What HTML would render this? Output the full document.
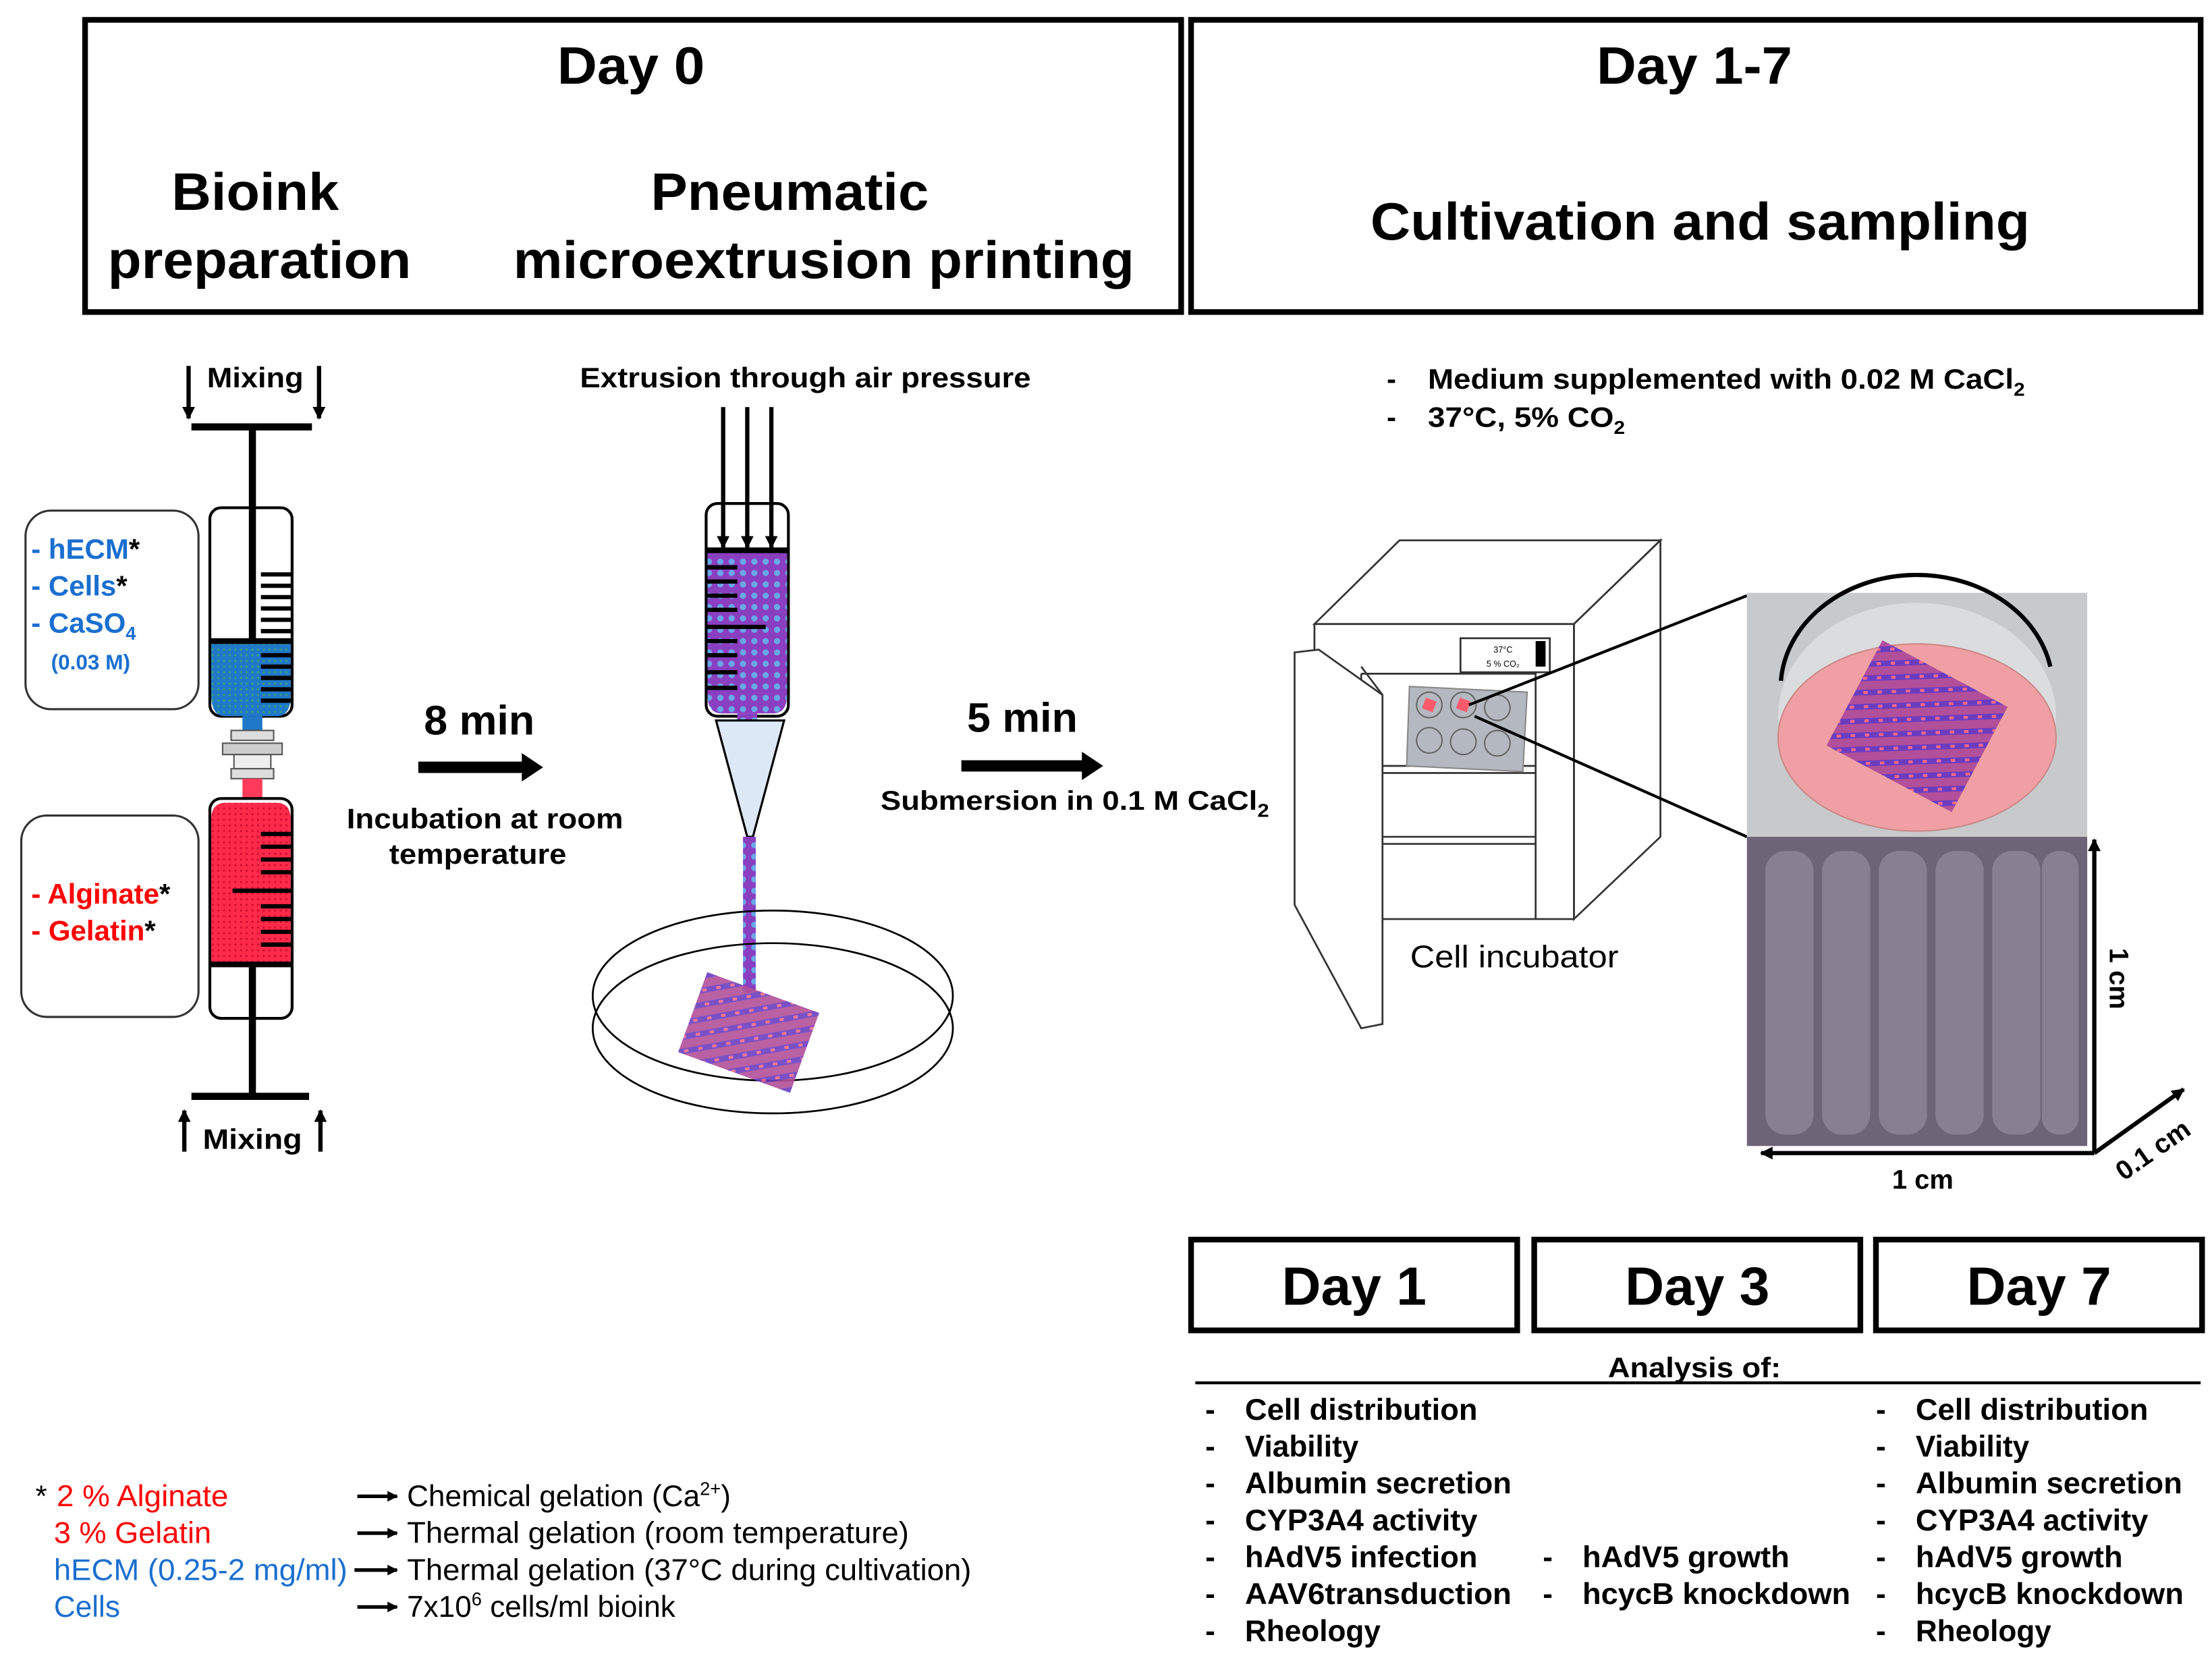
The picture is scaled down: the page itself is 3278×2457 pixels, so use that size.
<!DOCTYPE html>
<html><head><meta charset="utf-8"><style>
html,body{margin:0;padding:0;background:#fff}
svg{display:block}
text{font-family:"Liberation Sans",Arial,sans-serif}
.b{font-weight:bold}
</style></head><body>
<svg width="3278" height="2457" viewBox="0 0 1560 1169" preserveAspectRatio="none" xmlns="http://www.w3.org/2000/svg">
<defs>
<marker id="ah2" viewBox="0 0 10 10" refX="9" refY="5" markerWidth="3" markerHeight="3" orient="auto-start-reverse"><path d="M0,0L10,5L0,10z" fill="#000"/></marker>
<pattern id="pp" width="8" height="8" patternUnits="userSpaceOnUse"><rect width="8" height="8" fill="#8a3fc0"/><circle cx="4" cy="4" r="2.2" fill="#6aa6e8"/></pattern>
<pattern id="bp" width="4" height="4" patternUnits="userSpaceOnUse"><rect width="4" height="4" fill="#1f78c8"/><circle cx="2" cy="2" r="0.8" fill="#3aa080"/></pattern>
<pattern id="rp" width="4" height="4" patternUnits="userSpaceOnUse"><rect width="4" height="4" fill="#ff2a4a"/><circle cx="2" cy="2" r="0.8" fill="#d01030"/></pattern>
<pattern id="sc" width="10" height="10" patternUnits="userSpaceOnUse" patternTransform="rotate(-30)"><rect width="10" height="10" fill="#b24f9a"/><rect y="3" width="10" height="4" fill="#6b3cc0"/><rect x="3" y="4" width="3" height="2" fill="#ff6a8a"/></pattern>
</defs>

<rect x="60" y="14" width="773" height="206" fill="none" stroke="#000" stroke-width="4"/>
<rect x="840" y="14" width="712" height="206" fill="none" stroke="#000" stroke-width="4"/>
<g class="b" font-size="37" text-anchor="middle" lengthAdjust="spacingAndGlyphs">
<text x="445" y="59" textLength="104" lengthAdjust="spacingAndGlyphs">Day 0</text>
<text x="180" y="148" textLength="118" lengthAdjust="spacingAndGlyphs">Bioink</text>
<text x="183" y="196" textLength="214" lengthAdjust="spacingAndGlyphs">preparation</text>
<text x="557" y="148" textLength="196" lengthAdjust="spacingAndGlyphs">Pneumatic</text>
<text x="581" y="196" textLength="438" lengthAdjust="spacingAndGlyphs">microextrusion printing</text>
<text x="1195" y="59" textLength="138" lengthAdjust="spacingAndGlyphs">Day 1-7</text>
<text x="1199" y="169" textLength="465" lengthAdjust="spacingAndGlyphs">Cultivation and sampling</text>
</g>

<text x="180" y="273" class="b" font-size="20" text-anchor="middle" textLength="68" lengthAdjust="spacingAndGlyphs">Mixing</text>
<line x1="133" y1="258" x2="133" y2="295" stroke="#000" stroke-width="3" marker-end="url(#ah2)"/>
<line x1="225" y1="258" x2="225" y2="295" stroke="#000" stroke-width="3" marker-end="url(#ah2)"/>
<line x1="135" y1="301" x2="220" y2="301" stroke="#000" stroke-width="5"/>
<rect x="148" y="358" width="58" height="147" rx="8" fill="#fff" stroke="#000" stroke-width="2"/>
<path d="M149,452H205V490Q205,505 195,505H159Q149,505 149,490Z" fill="url(#bp)"/>
<line x1="148" y1="452" x2="206" y2="452" stroke="#000" stroke-width="4"/>
<line x1="178" y1="301" x2="178" y2="452" stroke="#000" stroke-width="5"/>
<g stroke="#000" stroke-width="3">
<line x1="184" y1="405" x2="206" y2="405"/><line x1="184" y1="413" x2="206" y2="413"/><line x1="184" y1="421" x2="206" y2="421"/><line x1="184" y1="429" x2="206" y2="429"/><line x1="184" y1="437" x2="206" y2="437"/><line x1="184" y1="445" x2="206" y2="445"/>
<line x1="184" y1="462" x2="206" y2="462"/><line x1="184" y1="470" x2="206" y2="470"/><line x1="184" y1="478" x2="206" y2="478"/><line x1="184" y1="486" x2="206" y2="486"/><line x1="184" y1="494" x2="206" y2="494"/>
</g>
<rect x="171" y="505" width="14" height="10" fill="#1f78c8"/>
<rect x="163" y="515" width="30" height="7" fill="#ddd" stroke="#555"/>
<rect x="157" y="524" width="42" height="8" fill="#ccc" stroke="#555"/>
<rect x="165" y="532" width="26" height="10" fill="#eee" stroke="#555"/>
<rect x="163" y="542" width="30" height="7" fill="#ddd" stroke="#555"/>
<rect x="171" y="549" width="14" height="14" fill="#ff3a5a"/>
<rect x="148" y="563" width="58" height="155" rx="8" fill="#fff" stroke="#000" stroke-width="2"/>
<path d="M149,680H205V578Q205,566 195,566H159Q149,566 149,578Z" fill="url(#rp)"/>
<line x1="148" y1="680" x2="206" y2="680" stroke="#000" stroke-width="4"/>
<g stroke="#000" stroke-width="3">
<line x1="184" y1="588" x2="206" y2="588"/><line x1="184" y1="597" x2="206" y2="597"/><line x1="184" y1="606" x2="206" y2="606"/><line x1="184" y1="615" x2="206" y2="615"/><line x1="164" y1="628" x2="206" y2="628"/><line x1="184" y1="639" x2="206" y2="639"/><line x1="184" y1="648" x2="206" y2="648"/><line x1="184" y1="657" x2="206" y2="657"/><line x1="184" y1="666" x2="206" y2="666"/>
</g>
<line x1="178" y1="680" x2="178" y2="773" stroke="#000" stroke-width="5"/>
<line x1="135" y1="773" x2="218" y2="773" stroke="#000" stroke-width="5"/>
<text x="178" y="810" class="b" font-size="20" text-anchor="middle" textLength="70" lengthAdjust="spacingAndGlyphs">Mixing</text>
<line x1="130" y1="812" x2="130" y2="783" stroke="#000" stroke-width="3" marker-end="url(#ah2)"/>
<line x1="226" y1="812" x2="226" y2="783" stroke="#000" stroke-width="3" marker-end="url(#ah2)"/>

<rect x="18" y="360" width="122" height="140" rx="18" fill="none" stroke="#333" stroke-width="1.5"/>
<g class="b" font-size="20" fill="#1a6fcf">
<text x="22" y="394">- hECM<tspan fill="#000">*</tspan></text>
<text x="22" y="420">- Cells<tspan fill="#000">*</tspan></text>
<text x="22" y="446">- CaSO<tspan font-size="13" dy="5">4</tspan></text>
<text x="36" y="472" font-size="15">(0.03 M)</text>
</g>
<rect x="15" y="575" width="125" height="142" rx="18" fill="none" stroke="#333" stroke-width="1.5"/>
<g class="b" font-size="20" fill="#ff0000">
<text x="22" y="637">- Alginate<tspan fill="#000">*</tspan></text>
<text x="22" y="663">- Gelatin<tspan fill="#000">*</tspan></text>
</g>

<text x="338" y="518" class="b" font-size="29" text-anchor="middle" textLength="78" lengthAdjust="spacingAndGlyphs">8 min</text>
<line x1="295" y1="541" x2="370" y2="541" stroke="#000" stroke-width="8"/>
<path d="M368,531L383,541L368,551z"/>
<g class="b" font-size="20" text-anchor="middle"><text x="342" y="584" textLength="195" lengthAdjust="spacingAndGlyphs">Incubation at room</text><text x="337" y="609" textLength="125" lengthAdjust="spacingAndGlyphs">temperature</text></g>

<text x="568" y="273" class="b" font-size="20" text-anchor="middle" textLength="318" lengthAdjust="spacingAndGlyphs">Extrusion through air pressure</text>
<rect x="498" y="355" width="58" height="150" rx="8" fill="#fff" stroke="#000" stroke-width="2"/>
<path d="M499,388H555V490Q555,503 545,503H509Q499,503 499,490Z" fill="url(#pp)"/>
<line x1="498" y1="388" x2="556" y2="388" stroke="#000" stroke-width="4"/>
<g stroke="#000" stroke-width="3">
<line x1="510" y1="287" x2="510" y2="386" marker-end="url(#ah2)"/><line x1="527" y1="287" x2="527" y2="386" marker-end="url(#ah2)"/><line x1="544" y1="287" x2="544" y2="386" marker-end="url(#ah2)"/>
<line x1="499" y1="400" x2="520" y2="400"/><line x1="499" y1="410" x2="520" y2="410"/><line x1="499" y1="420" x2="520" y2="420"/><line x1="499" y1="430" x2="520" y2="430"/><line x1="499" y1="442" x2="540" y2="442"/><line x1="499" y1="452" x2="520" y2="452"/><line x1="499" y1="462" x2="520" y2="462"/><line x1="499" y1="474" x2="520" y2="474"/><line x1="499" y1="485" x2="520" y2="485"/>
</g>
<rect x="520" y="503" width="14" height="6" fill="url(#pp)"/>
<path d="M505,508L553,508L531,590L527,590Z" fill="#dce8f5" stroke="#000" stroke-width="1.5"/>
<rect x="524" y="590" width="9" height="110" fill="url(#pp)"/>
<ellipse cx="545" cy="702" rx="127" ry="60" fill="none" stroke="#000" stroke-width="1.3"/>
<ellipse cx="545" cy="725" rx="127" ry="60" fill="none" stroke="#000" stroke-width="1.3"/>
<g transform="translate(528,728) rotate(20)"><rect x="-42" y="-30" width="84" height="60" fill="url(#sc)" opacity="0.9"/></g>

<text x="721" y="516" class="b" font-size="29" text-anchor="middle" textLength="78" lengthAdjust="spacingAndGlyphs">5 min</text>
<line x1="678" y1="540" x2="765" y2="540" stroke="#000" stroke-width="8"/>
<path d="M763,530L778,540L763,550z"/>
<text x="621" y="571" class="b" font-size="19" textLength="274" lengthAdjust="spacingAndGlyphs">Submersion in 0.1 M CaCl<tspan font-size="13" dy="5">2</tspan></text>

<g class="b" font-size="20">
<text x="978" y="274">-</text><text x="1007" y="274" textLength="421" lengthAdjust="spacingAndGlyphs">Medium supplemented with 0.02 M CaCl<tspan font-size="13" dy="5">2</tspan></text>
<text x="978" y="301">-</text><text x="1007" y="301" textLength="139" lengthAdjust="spacingAndGlyphs">37°C, 5% CO<tspan font-size="13" dy="5">2</tspan></text>
</g>

<g fill="#fff" stroke="#333" stroke-width="1.3">
<path d="M927,440L987,381L1171,381L1110,440Z"/>
<path d="M1110,440L1171,381L1171,590L1110,648Z"/>
<rect x="927" y="440" width="183" height="208"/>
<rect x="1030" y="450" width="63" height="24"/>
<path d="M960,475V648M960,475H1083V648M960,540H1083M960,545H1083M960,590H1083M960,595H1083M960,505L942,520M960,560L942,580M960,610L942,630"/>
<path d="M913,460L930,458L975,490L975,722L960,725L913,638Z"/>
<path d="M960,470L975,490"/>
</g>
<rect x="1083" y="452" width="7" height="18" fill="#000"/>
<text x="1060" y="460" font-size="6" text-anchor="middle">37°C</text><text x="1060" y="470" font-size="6" text-anchor="middle">5 % CO₂</text>
<path d="M994,484L1077,488L1074,544L992,540Z" fill="#b4b8c0" stroke="#888"/>
<g fill="none" stroke="#666"><circle cx="1008" cy="497" r="9"/><circle cx="1032" cy="497" r="9"/><circle cx="1056" cy="499" r="9"/><circle cx="1008" cy="522" r="9"/><circle cx="1032" cy="523" r="9"/><circle cx="1056" cy="524" r="9"/></g>
<rect x="1004" y="493" width="8" height="8" fill="#ff5a6a" transform="rotate(20 1008 497)"/>
<rect x="1028" y="493" width="8" height="8" fill="#ff5a6a" transform="rotate(20 1032 497)"/>
<text x="1068" y="682" font-size="22" text-anchor="middle" textLength="147" lengthAdjust="spacingAndGlyphs">Cell incubator</text>
<line x1="1036" y1="497" x2="1232" y2="420" stroke="#000" stroke-width="2"/>
<line x1="1040" y1="505" x2="1232" y2="590" stroke="#000" stroke-width="2"/>

<rect x="1232" y="418" width="240" height="172" fill="#c8c9cb"/>
<ellipse cx="1352" cy="505" rx="98" ry="80" fill="#fff" opacity="0.35"/>
<path d="M1256,480A96,80 0 0 1 1446,470" fill="none" stroke="#000" stroke-width="3"/>
<ellipse cx="1352" cy="520" rx="98" ry="66" fill="#f0a0a4" stroke="#c88" stroke-width="1"/>
<g transform="translate(1352,512) rotate(28)"><rect x="-50" y="-42" width="100" height="84" fill="url(#sc)"/></g>
<rect x="1232" y="590" width="240" height="218" fill="#6e6478"/>
<g fill="#8c8296" opacity="0.9">
<rect x="1245" y="600" width="34" height="200" rx="14"/><rect x="1285" y="600" width="34" height="200" rx="14"/><rect x="1325" y="600" width="34" height="200" rx="14"/><rect x="1365" y="600" width="34" height="200" rx="14"/><rect x="1405" y="600" width="34" height="200" rx="14"/><rect x="1440" y="600" width="26" height="200" rx="12"/>
</g>
<line x1="1477" y1="813" x2="1477" y2="592" stroke="#000" stroke-width="3" marker-end="url(#ah2)"/>
<line x1="1477" y1="813" x2="1242" y2="813" stroke="#000" stroke-width="3" marker-end="url(#ah2)"/>
<line x1="1477" y1="813" x2="1540" y2="768" stroke="#000" stroke-width="3" marker-end="url(#ah2)"/>
<text transform="translate(1488,690) rotate(90)" class="b" font-size="19" text-anchor="middle">1 cm</text>
<text x="1356" y="838" class="b" font-size="19" text-anchor="middle">1 cm</text>
<text transform="translate(1522,816) rotate(-35)" class="b" font-size="19" text-anchor="middle">0.1 cm</text>

<g fill="none" stroke="#000" stroke-width="4">
<rect x="840" y="874" width="230" height="64"/><rect x="1082" y="874" width="230" height="64"/><rect x="1323" y="874" width="230" height="64"/>
</g>
<g font-size="38" class="b" text-anchor="middle">
<text x="955" y="920" textLength="102" lengthAdjust="spacingAndGlyphs">Day 1</text><text x="1197" y="920" textLength="102" lengthAdjust="spacingAndGlyphs">Day 3</text><text x="1438" y="920" textLength="102" lengthAdjust="spacingAndGlyphs">Day 7</text>
</g>
<text x="1195" y="971" class="b" font-size="20" text-anchor="middle" textLength="122" lengthAdjust="spacingAndGlyphs">Analysis of:</text>
<line x1="843" y1="975" x2="1552" y2="975" stroke="#000" stroke-width="2"/>
<g class="b" font-size="21">
<text x="850" y="1001">-</text><text x="878" y="1001" textLength="164" lengthAdjust="spacingAndGlyphs">Cell distribution</text>
<text x="850" y="1027">-</text><text x="878" y="1027">Viability</text>
<text x="850" y="1053">-</text><text x="878" y="1053" textLength="188" lengthAdjust="spacingAndGlyphs">Albumin secretion</text>
<text x="850" y="1079">-</text><text x="878" y="1079" textLength="164" lengthAdjust="spacingAndGlyphs">CYP3A4 activity</text>
<text x="850" y="1105">-</text><text x="878" y="1105" textLength="164" lengthAdjust="spacingAndGlyphs">hAdV5 infection</text>
<text x="850" y="1131">-</text><text x="878" y="1131" textLength="188" lengthAdjust="spacingAndGlyphs">AAV6transduction</text>
<text x="850" y="1157">-</text><text x="878" y="1157">Rheology</text>
<text x="1088" y="1105">-</text><text x="1116" y="1105" textLength="146" lengthAdjust="spacingAndGlyphs">hAdV5 growth</text>
<text x="1088" y="1131">-</text><text x="1116" y="1131" textLength="189" lengthAdjust="spacingAndGlyphs">hcycB knockdown</text>
<text x="1323" y="1001">-</text><text x="1351" y="1001" textLength="164" lengthAdjust="spacingAndGlyphs">Cell distribution</text>
<text x="1323" y="1027">-</text><text x="1351" y="1027">Viability</text>
<text x="1323" y="1053">-</text><text x="1351" y="1053" textLength="188" lengthAdjust="spacingAndGlyphs">Albumin secretion</text>
<text x="1323" y="1079">-</text><text x="1351" y="1079" textLength="164" lengthAdjust="spacingAndGlyphs">CYP3A4 activity</text>
<text x="1323" y="1105">-</text><text x="1351" y="1105" textLength="146" lengthAdjust="spacingAndGlyphs">hAdV5 growth</text>
<text x="1323" y="1131">-</text><text x="1351" y="1131" textLength="189" lengthAdjust="spacingAndGlyphs">hcycB knockdown</text>
<text x="1323" y="1157">-</text><text x="1351" y="1157">Rheology</text>
</g>

<g font-size="21">
<text x="25" y="1062">*</text>
<text x="40" y="1062" fill="#ff0000" textLength="121" lengthAdjust="spacingAndGlyphs">2 % Alginate</text>
<text x="38" y="1088" fill="#ff0000" textLength="111" lengthAdjust="spacingAndGlyphs">3 % Gelatin</text>
<text x="38" y="1114" fill="#1a6fcf" textLength="207" lengthAdjust="spacingAndGlyphs">hECM (0.25-2 mg/ml)</text>
<text x="38" y="1140" fill="#1a6fcf">Cells</text>
<text x="287" y="1062">Chemical gelation (Ca<tspan font-size="13" dy="-8">2+</tspan><tspan dy="8">)</tspan></text>
<text x="287" y="1088" textLength="354" lengthAdjust="spacingAndGlyphs">Thermal gelation (room temperature)</text>
<text x="287" y="1114" textLength="398" lengthAdjust="spacingAndGlyphs">Thermal gelation (37°C during cultivation)</text>
<text x="287" y="1140">7x10<tspan font-size="13" dy="-8">6</tspan><tspan dy="8"> cells/ml bioink</tspan></text>
</g>
<g stroke="#000" stroke-width="2.5">
<line x1="252" y1="1055" x2="280" y2="1055" marker-end="url(#ah2)"/>
<line x1="252" y1="1081" x2="280" y2="1081" marker-end="url(#ah2)"/>
<line x1="250" y1="1107" x2="280" y2="1107" marker-end="url(#ah2)"/>
<line x1="252" y1="1133" x2="280" y2="1133" marker-end="url(#ah2)"/>
</g>
</svg>
</body></html>
